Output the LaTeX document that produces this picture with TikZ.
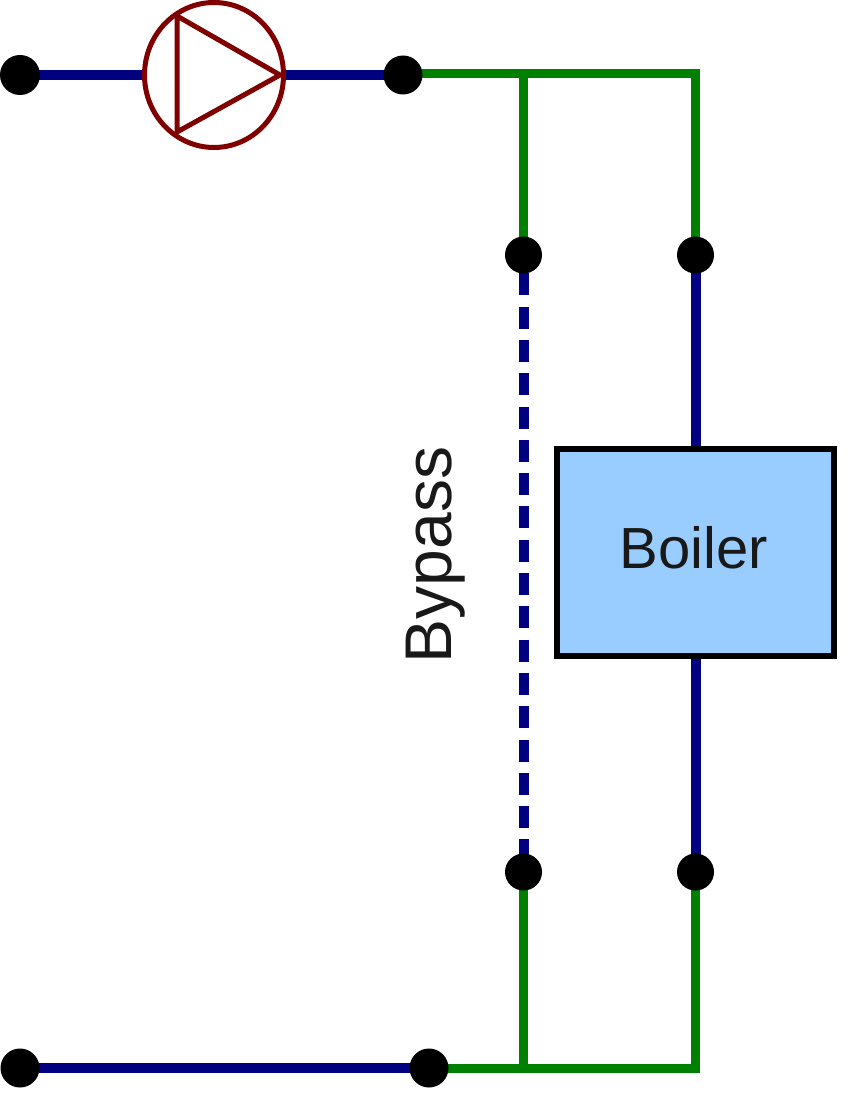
\documentclass[tikz,border=0pt]{standalone}
\usepackage{fontspec}
\setmainfont{Liberation Sans}
\usetikzlibrary{shapes.geometric,backgrounds}
\definecolor{pipeblue}{RGB}{0,0,128}
\definecolor{pipegreen}{RGB}{0,128,0}
\definecolor{pumpred}{RGB}{128,0,0}
\definecolor{boilerfill}{RGB}{153,204,255}
\tikzset{
  junction/.style={circle,fill=black,draw=none,minimum size=39pt,inner sep=0pt},
  smalljunction/.style={circle,fill=black,draw=none,minimum size=37pt,inner sep=0pt},
  bluepipe/.style={draw=pipeblue,line width=10pt},
  greenpipe/.style={draw=pipegreen,line width=9pt},
  bypasspipe/.style={draw=pipeblue,line width=10pt,dash pattern=on 22pt off 11.3pt,dash phase=15pt},
  pumpbody/.style={ellipse,draw=pumpred,line width=5pt,fill=white,minimum width=139pt,minimum height=145pt,inner sep=0pt},
  pumpmark/.style={draw=pumpred,line width=5pt,line join=round},
  boilerbox/.style={rectangle,draw=black,line width=6pt,fill=boilerfill,minimum width=277pt,minimum height=207pt,inner sep=0pt},
  boilerlabel/.style={font=\fontsize{58}{60}\selectfont,text=black!90,inner sep=0pt},
  bypasslabel/.style={font=\fontsize{66}{68}\selectfont,text=black!90,rotate=90,inner sep=0pt}
}
\begin{document}
\begin{tikzpicture}[x=1pt,y=-1pt]
\useasboundingbox (0,0) rectangle (847,1102);
\node[smalljunction,minimum size=40pt] (tl) at (20,75) {};
\node[junction] (tm) at (403,75) {};
\node[pumpbody] (pump) at (214,75) {};
\coordinate (ta) at (177,16);
\coordinate (tb) at (280,75);
\coordinate (tc) at (177,132);
\draw[pumpmark] (ta) -- (tb) -- (tc) -- cycle;
\coordinate (tjoin) at (523.5,74);
\coordinate (tcorner) at (695.5,74);
\node[smalljunction] (bpTop) at (523.5,255) {};
\node[smalljunction] (boTop) at (695.5,255) {};
\node[smalljunction] (bpBot) at (523.5,872) {};
\node[smalljunction] (boBot) at (695.5,872) {};
\node[junction] (bl) at (20,1068) {};
\node[junction] (bm) at (429,1068) {};
\coordinate (bjoin) at (523.5,1068);
\coordinate (bcorner) at (695.5,1068);
\node[boilerbox] (boiler) at (695.5,552) {};
\node[boilerlabel] (boilertext) at (694,548) {Boiler};
\node[bypasslabel,anchor=base] (bypass) at (451,555) {Bypass};
\begin{pgfonlayer}{background}
\fill[white] (0,0) rectangle (847,1102);
\draw[bluepipe] (tl.center) -- (pump.west);
\draw[bluepipe] (pump.east) -- (tm.center);
\draw[greenpipe,line join=miter] (tm.center |- tcorner) -- (tcorner) -- (boTop.center);
\draw[greenpipe] (tjoin) -- (bpTop.center);
\draw[bypasspipe] (bpTop.center) -- (bpBot.center);
\draw[bluepipe] (boTop.center) -- (boiler.north -| boTop);
\draw[bluepipe] (boiler.south -| boBot) -- (boBot.center);
\draw[greenpipe] (bpBot.center) -- (bjoin);
\draw[greenpipe,line join=miter] (bm.center) -- (bcorner) -- (boBot.center);
\draw[bluepipe] (bl.center) -- (bm.center);
\end{pgfonlayer}
\end{tikzpicture}
\end{document}
